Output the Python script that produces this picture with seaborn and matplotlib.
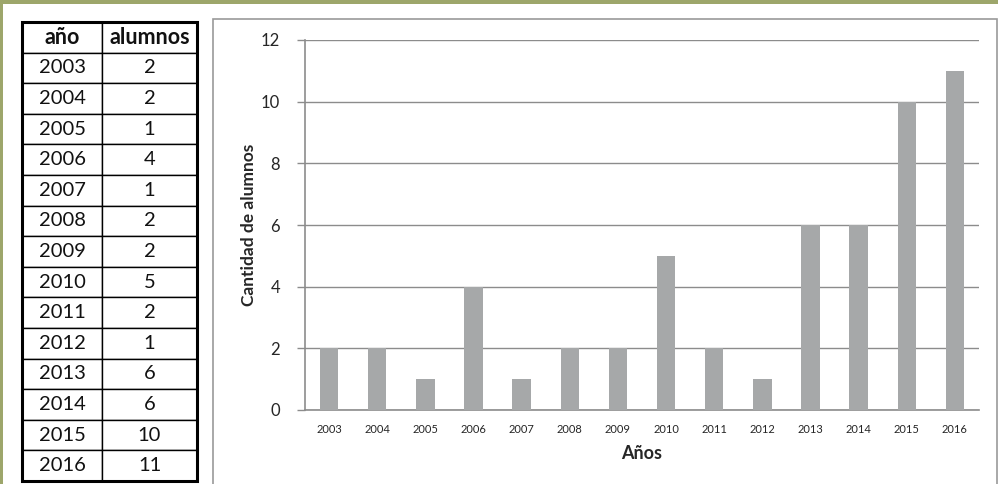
import matplotlib
matplotlib.use('Agg')
import matplotlib.pyplot as plt
import seaborn as sns
import pandas as pd
from matplotlib.patches import Rectangle

anios = ['2003', '2004', '2005', '2006', '2007', '2008', '2009',
         '2010', '2011', '2012', '2013', '2014', '2015', '2016']
alumnos = [2, 2, 1, 4, 1, 2, 2, 5, 2, 1, 6, 6, 10, 11]
col_labels = ['año', 'alumnos']
y_ticks = [0, 2, 4, 6, 8, 10, 12]

df = pd.DataFrame({'anio': anios, 'alumnos': alumnos})

sns.set_style('white')
plt.rcParams['font.family'] = ['Lato', 'DejaVu Sans']

W, H = 998, 484
fig = plt.figure(figsize=(W / 100, H / 100), dpi=100)
fig.patch.set_facecolor('white')

olive = '#9DA66B'
# marco oliva arriba e izquierda
fig.add_artist(Rectangle((0, 1 - 4 / H), 1, 4 / H, transform=fig.transFigure,
                         facecolor=olive, edgecolor='none', zorder=-2))
fig.add_artist(Rectangle((0, 0), 3 / W, 1, transform=fig.transFigure,
                         facecolor=olive, edgecolor='none', zorder=-2))

# recuadro del grafico
fig.add_artist(Rectangle((213 / W, -0.02), (997 - 213) / W, 1 - 19 / H + 0.02,
                         transform=fig.transFigure, facecolor='white',
                         edgecolor='#9a9a9a', lw=1.2, zorder=-1))

# tabla
tab_ax = fig.add_axes([22 / W, 1 - 481 / H, (197 - 22) / W, (481 - 22) / H])
tab_ax.axis('off')
cells = [[a, str(v)] for a, v in zip(anios, alumnos)]
tbl = tab_ax.table(cellText=cells, colLabels=col_labels, cellLoc='center',
                   bbox=[0, 0, 1, 1], colWidths=[80, 95])
tbl.auto_set_font_size(False)
for (r, c), cell in tbl.get_celld().items():
    cell.set_edgecolor('black')
    cell.set_linewidth(1.0)
    cell.get_text().set_fontsize(14.5)
    cell.get_text().set_color('#111111')
    if r == 0:
        cell.get_text().set_fontweight('bold')
        cell.get_text().set_fontsize(15.5)
tab_ax.add_patch(Rectangle((0, 0), 1, 1, transform=tab_ax.transAxes,
                           fill=False, edgecolor='black', lw=2.2, zorder=10,
                           clip_on=False))

# grafico de barras
ax = fig.add_axes([305 / W, 1 - 410 / H, (979 - 305) / W, (410 - 40) / H])
ax.patch.set_alpha(0)
sns.barplot(data=df, x='anio', y='alumnos', color='#A6A8A9', width=0.38,
            saturation=1, linewidth=0, ax=ax, zorder=3)
ax.set_xlim(-0.5, len(anios) - 0.5)
ax.set_ylim(0, 12)
ax.set_yticks(y_ticks)
ax.yaxis.grid(True, color='#8c8c8c', lw=1)
ax.set_axisbelow(True)
for s in ['top', 'right']:
    ax.spines[s].set_visible(False)
for s in ['left', 'bottom']:
    ax.spines[s].set_color('#8c8c8c')
    ax.spines[s].set_linewidth(1.2)
ax.tick_params(axis='y', length=6, width=1, color='#8c8c8c', labelsize=12,
               pad=12, left=True)
ax.tick_params(axis='x', length=0, labelsize=8, pad=10)
ax.set_xlabel('Años', fontsize=13, fontweight='bold', labelpad=7)
ax.set_ylabel('Cantidad de alumnos', fontsize=12.5, fontweight='bold', labelpad=3)

fig.savefig('out.png', dpi=100, facecolor='white')
